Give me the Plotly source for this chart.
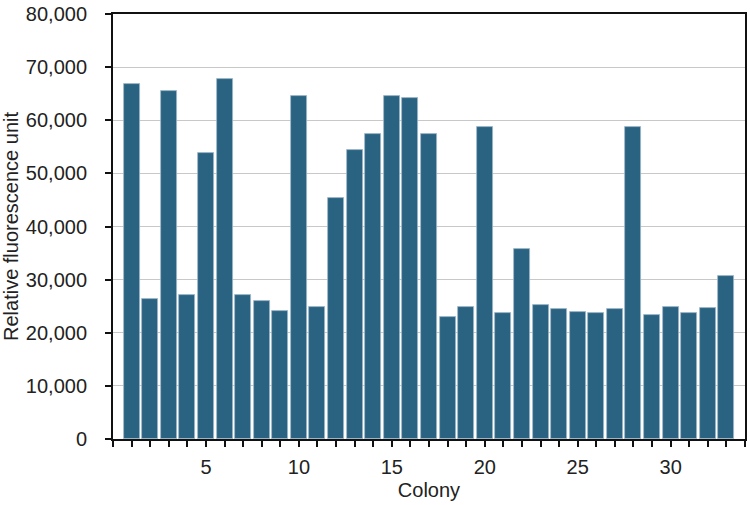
import plotly.graph_objects as go

colonies = list(range(1, 34))
rfu = [66900, 26400, 65600, 27100, 53900, 67800, 27100, 25900, 24100, 64500,
       24900, 45400, 54400, 57500, 64500, 64100, 57400, 22900, 24800, 58800,
       23800, 35700, 25200, 24400, 24000, 23800, 24400, 58700, 23400, 24800,
       23800, 24600, 30700]
x_tick_vals = [5, 10, 15, 20, 25, 30]
y_tick_vals = [0, 10000, 20000, 30000, 40000, 50000, 60000, 70000, 80000]
y_tick_text = ["0", "10,000", "20,000", "30,000", "40,000", "50,000", "60,000", "70,000", "80,000"]

fig = go.Figure(go.Bar(
    x=colonies, y=rfu, width=0.86,
    marker=dict(color="#2a6382", line=dict(color="#9fb8c9", width=0.8)),
))

font_family = "Liberation Sans, Arial, sans-serif"
fig.update_layout(
    width=750, height=505,
    margin=dict(l=113, r=3, t=11, b=66),
    plot_bgcolor="white", paper_bgcolor="white",
    font=dict(family=font_family, size=20, color="#222"),
    showlegend=False,
    bargap=0,
)
fig.update_xaxes(
    range=[0, 34],
    tickmode="array", tickvals=x_tick_vals,
    ticks="outside", ticklen=6, tickwidth=2, tickcolor="#111",
    minor=dict(tick0=0, dtick=1, ticks="outside", ticklen=6, tickwidth=2, tickcolor="#111"),
    showline=True, linewidth=2, linecolor="#111", mirror=True,
    showgrid=False, zeroline=False,
    tickfont=dict(size=20),
    ticklabelstandoff=3,
    title=dict(text="Colony", font=dict(size=20), standoff=6),
)
fig.update_yaxes(
    range=[0, 80000],
    tickmode="array", tickvals=y_tick_vals, ticktext=y_tick_text,
    ticks="outside", ticklen=6, tickwidth=2, tickcolor="#111",
    showline=True, linewidth=2, linecolor="#111", mirror=True,
    showgrid=True, gridcolor="#c8c8c8", gridwidth=1.2,
    zeroline=False,
    tickfont=dict(size=20),
    ticklabelstandoff=14,
    title=dict(text="Relative fluorescence unit", font=dict(size=20), standoff=6),
)

fig.write_html("out.html")
